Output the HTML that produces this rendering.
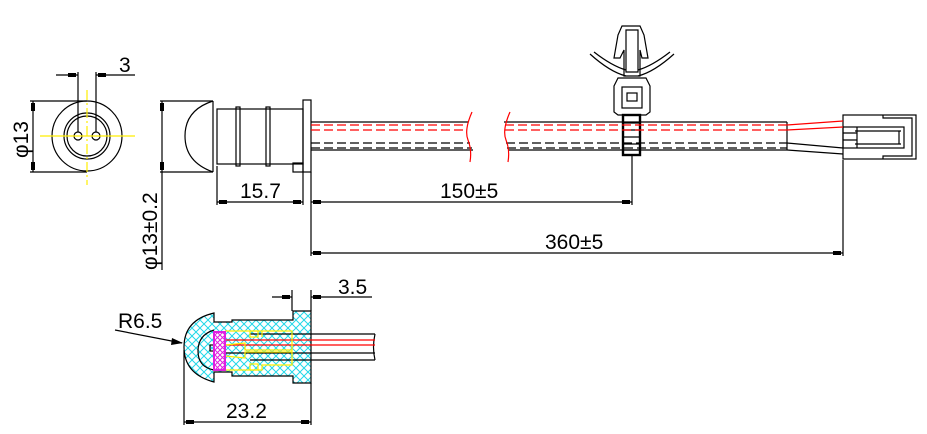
<!DOCTYPE html>
<html><head><meta charset="utf-8"><style>
html,body{margin:0;padding:0;background:#fff;width:927px;height:434px;overflow:hidden}
svg{display:block}
text{font-family:"Liberation Sans",sans-serif;font-size:21px;fill:#000}
</style></head><body>
<svg width="927" height="434" viewBox="0 0 927 434" xmlns="http://www.w3.org/2000/svg">
<defs>
<pattern id="hx" width="8" height="8" patternUnits="userSpaceOnUse"><path d="M0 0L8 8M8 0L0 8" stroke="#22d8e8" stroke-width="1"/></pattern>
<pattern id="hm" width="5" height="5" patternUnits="userSpaceOnUse"><rect width="5" height="5" fill="#fff"/><path d="M0 0L5 5M5 0L0 5" stroke="#e020e0" stroke-width="1"/></pattern>
</defs>
<g fill="none" stroke="#000" stroke-width="1.2">
<circle cx="87" cy="136" r="35"/>
<circle cx="87" cy="136" r="23"/>
<circle cx="87" cy="136" r="20"/>
<circle cx="78" cy="136" r="4"/>
<circle cx="96" cy="136" r="4"/>
<line x1="78" y1="72" x2="78" y2="132"/>
<line x1="96" y1="72" x2="96" y2="132"/>
<line x1="56" y1="75" x2="78" y2="75"/>
<line x1="96" y1="75" x2="135" y2="75"/>
<line x1="30" y1="101" x2="87" y2="101"/>
<line x1="30" y1="172" x2="87" y2="172"/>
<line x1="33" y1="101" x2="33" y2="172"/>
<path d="M213 101 Q185 110 185 136 Q185 162 213 172"/>
<line x1="213" y1="101" x2="213" y2="172"/>
<line x1="160" y1="101" x2="213" y2="101"/>
<line x1="160" y1="172" x2="213" y2="172"/>
<line x1="162" y1="101" x2="162" y2="270"/>
<rect x="217" y="109" width="86" height="55"/>
<rect x="236" y="107" width="4" height="59"/>
<rect x="266" y="107" width="4" height="59"/>
<rect x="303" y="100" width="8" height="72"/>
<rect x="293" y="163" width="10" height="9"/>
<line x1="311" y1="122" x2="468" y2="122"/><line x1="311" y1="150" x2="473" y2="150"/>
<line x1="504" y1="122" x2="787" y2="122"/><line x1="508" y1="150" x2="787" y2="150"/>
<line x1="787" y1="122" x2="787" y2="150"/>
<line x1="311" y1="143" x2="470" y2="143" stroke-dasharray="9,4"/>
<line x1="311" y1="148" x2="472" y2="148" stroke-dasharray="9,4"/>
<line x1="506" y1="143" x2="787" y2="143" stroke-dasharray="9,4"/>
<line x1="507" y1="148" x2="787" y2="148" stroke-dasharray="9,4"/>
<path d="M787 143 L843 148 M787 150 L843 154"/>
<line x1="217" y1="166" x2="217" y2="205"/>
<line x1="303" y1="172" x2="303" y2="205"/>
<line x1="311" y1="172" x2="311" y2="256"/>
<line x1="632" y1="155" x2="632" y2="205"/>
<line x1="843" y1="160" x2="843" y2="256"/>
<line x1="217" y1="202" x2="303" y2="202"/>
<line x1="311" y1="202" x2="632" y2="202"/>
<line x1="311" y1="253" x2="843" y2="253"/>
<path d="M622 26 L640 26 L644 35 L648 58 L642 58 L640 50 L640 76 L624 76 L624 50 L620 58 L614 58 L618 35 Z"/>
<path d="M626 30 L638 30 L638 72 L626 72 Z"/>
<path d="M590 54 Q610 72 626 76 M674 54 Q654 72 638 76"/>
<path d="M594 52 Q612 66 626 70 M670 52 Q652 66 638 70" />
<path d="M618 78 L614 86 L614 112 L618 115 L646 115 L650 112 L650 86 L646 78 Z"/>
<rect x="622" y="87" width="20" height="21"/>
<rect x="627" y="93" width="10" height="8"/>
<rect x="623" y="115" width="17" height="40" stroke-width="2.4"/>
<path d="M623 123H640M623 130H640M623 137H640M623 144H640M623 150H640"/>
<rect x="843" y="115" width="73" height="44"/>
<rect x="843" y="127" width="61" height="21"/>
<path d="M883 115V118H912V156H883V159"/>
<path d="M843 133H857M843 140H857M857 127V148M855 131H901M855 144H901M899 131V144"/>
<path d="M214 313 Q184 320 184 347 Q184 374 214 382 L214 372 L232 372 L232 376 L293 376 L293 383 L311 383 L311 311 L293 311 L293 320 L232 320 L232 322 L214 322 Z" fill="url(#hx)"/>
<path d="M214 330 Q198 335 198 351 Q198 367 214 370" />
<line x1="250" y1="334" x2="375" y2="334"/>
<line x1="250" y1="360" x2="375" y2="360"/>
<line x1="225" y1="353" x2="375" y2="353"/>
<path d="M375 334 Q372 347 375 360"/>
<rect x="210" y="345" width="4" height="6"/>
<line x1="292" y1="290" x2="292" y2="311"/>
<line x1="311" y1="290" x2="311" y2="311"/>
<line x1="272" y1="297" x2="292" y2="297"/>
<line x1="311" y1="297" x2="372" y2="297"/>
<line x1="184" y1="350" x2="184" y2="425"/>
<line x1="311" y1="383" x2="311" y2="425"/>
<line x1="184" y1="422" x2="311" y2="422"/>
<line x1="115" y1="330" x2="182" y2="343"/>
</g>
<g fill="none" stroke="#ff0000" stroke-width="1.2">
<line x1="311" y1="125" x2="467" y2="125" stroke-dasharray="9,4"/>
<line x1="311" y1="130" x2="467" y2="130" stroke-dasharray="9,4"/>
<line x1="505" y1="125" x2="787" y2="125" stroke-dasharray="9,4"/>
<line x1="505" y1="130" x2="787" y2="130" stroke-dasharray="9,4"/>
<path d="M787 125 L843 121 M787 130 L843 127"/>
<path d="M472 112 Q464 130 468 140 Q472 150 470 162"/>
<path d="M510 112 Q502 130 506 140 Q510 150 508 162"/>
<line x1="225" y1="340" x2="375" y2="340"/>
<line x1="225" y1="345" x2="375" y2="345"/>
</g>
<g fill="none" stroke="#ffee00" stroke-width="1.2">
<line x1="40" y1="136" x2="135" y2="136"/>
<line x1="87" y1="90" x2="87" y2="185" stroke-dasharray="10,3,2,3"/>
<path d="M225 331 L262 331 L262 337 L262 331 L292 331 L292 365 L262 365 L262 370 L225 370"/>
<rect x="250" y="331" width="8" height="6"/><rect x="250" y="364" width="8" height="6"/>
<path d="M225 345 L245 343 L245 350 L292 350 M225 356 L245 358 L245 352 L292 352"/>
</g>
<rect x="214" y="332" width="11" height="38" fill="url(#hm)" stroke="#e020e0" stroke-width="2"/>
<g fill="#000">
<rect x="68" y="73" width="8" height="4"/><rect x="98" y="73" width="8" height="4"/>
<rect x="31" y="103" width="4" height="8"/><rect x="31" y="162" width="4" height="8"/>
<rect x="160" y="103" width="4" height="8"/><rect x="160" y="162" width="4" height="8"/>
<rect x="219" y="200" width="8" height="4"/><rect x="293" y="200" width="8" height="4"/>
<rect x="313" y="200" width="8" height="4"/><rect x="622" y="200" width="8" height="4"/>
<rect x="313" y="251" width="8" height="4"/><rect x="833" y="251" width="8" height="4"/>
<rect x="282" y="295" width="8" height="4"/><rect x="313" y="295" width="8" height="4"/>
<rect x="186" y="420" width="8" height="4"/><rect x="301" y="420" width="8" height="4"/>
<path d="M183 343 L172 338 L171 345 Z"/>
</g>
<text x="119" y="72">3</text>
<text transform="translate(28,158) rotate(-90)">φ13</text>
<text transform="translate(157,270) rotate(-90)">φ13±0.2</text>
<text x="240" y="198">15.7</text>
<text x="440" y="198">150±5</text>
<text x="545" y="249">360±5</text>
<text x="338" y="294">3.5</text>
<text x="118" y="328">R6.5</text>
<text x="226" y="418">23.2</text>
</svg>
</body></html>
